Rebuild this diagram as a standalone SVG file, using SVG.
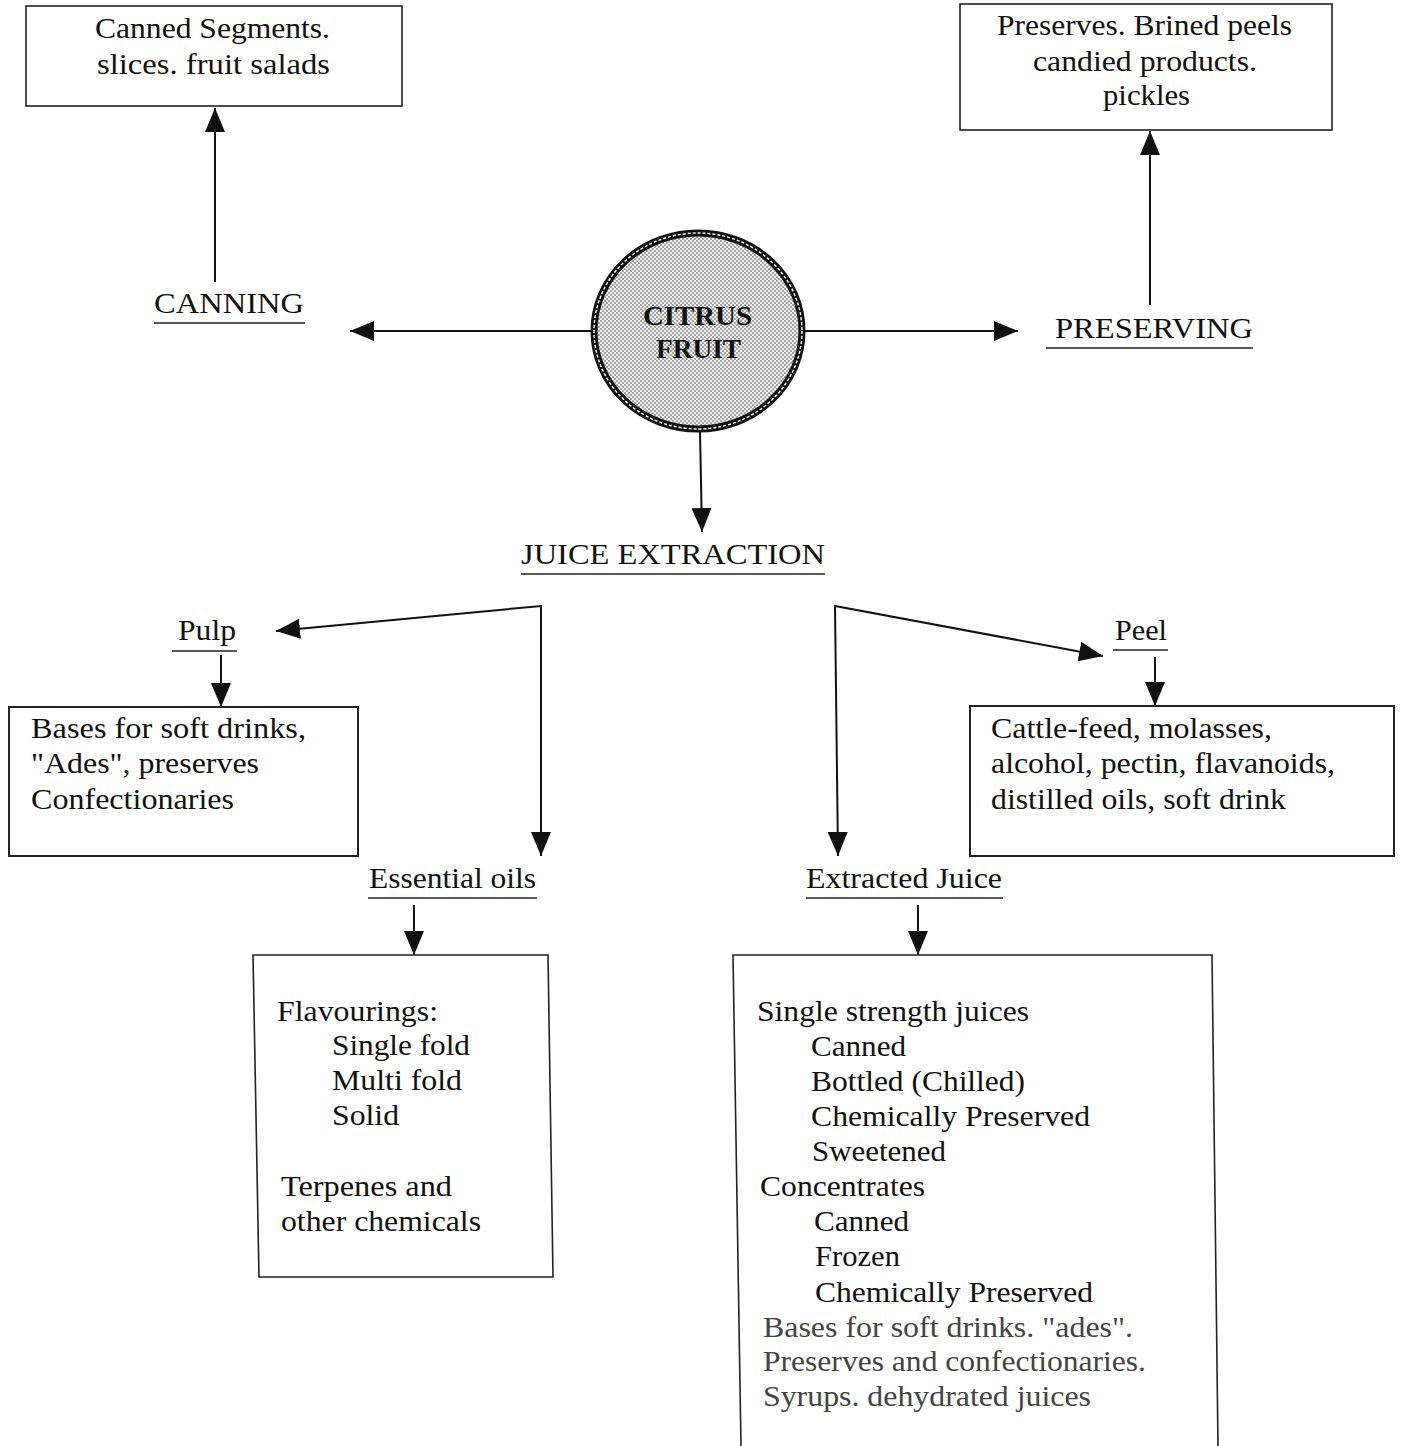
<svg xmlns="http://www.w3.org/2000/svg" width="1401" height="1446" viewBox="0 0 1401 1446">
<style>
.t{font-family:"Liberation Serif","Times New Roman",serif;font-size:30px;fill:#111}
.box{fill:none;stroke:#222;stroke-width:1.6}
.ln{fill:none;stroke:#111;stroke-width:2}
.ul{stroke:#222;stroke-width:1.5}
.f{fill:#444}
</style>
<defs>
<marker id="ah" viewBox="0 0 24 20" refX="24" refY="10" markerWidth="24" markerHeight="20" orient="auto-start-reverse" markerUnits="userSpaceOnUse">
<path d="M0,0 L24,10 L0,20 z" fill="#111"/>
</marker>
<pattern id="dots" width="4" height="4" patternUnits="userSpaceOnUse">
<rect width="4" height="4" fill="#f0f0f0"/>
<circle cx="1" cy="1" r="0.75" fill="#333"/>
<circle cx="3" cy="3" r="0.75" fill="#333"/>
</pattern>
</defs>
<rect width="1401" height="1446" fill="#fff"/>

<g id="connectors">
<line class="ln" x1="215" y1="282" x2="215" y2="108" marker-end="url(#ah)"/>
<line class="ln" x1="1150" y1="305" x2="1150" y2="131" marker-end="url(#ah)"/>
<line class="ln" x1="591" y1="331" x2="350" y2="331" marker-end="url(#ah)"/>
<line class="ln" x1="805" y1="331" x2="1018" y2="331" marker-end="url(#ah)"/>
<line class="ln" x1="700" y1="432" x2="702" y2="532" marker-end="url(#ah)"/>
<path class="ln" d="M541,856 L541,606 L276,631" marker-start="url(#ah)" marker-end="url(#ah)"/>
<path class="ln" d="M838,856 L835,606 L1103,656" marker-start="url(#ah)" marker-end="url(#ah)"/>
<line class="ln" x1="221" y1="655" x2="221" y2="707" marker-end="url(#ah)"/>
<line class="ln" x1="1155" y1="657" x2="1155" y2="706" marker-end="url(#ah)"/>
<line class="ln" x1="414" y1="905" x2="414" y2="955" marker-end="url(#ah)"/>
<line class="ln" x1="918" y1="905" x2="918" y2="955" marker-end="url(#ah)"/>
</g>

<g id="citrus">
<ellipse cx="698" cy="331" rx="104" ry="98" fill="url(#dots)" stroke="#111" stroke-width="7"/>
<ellipse cx="698" cy="331" rx="104" ry="98" fill="none" stroke="#fff" stroke-width="1.4" stroke-dasharray="3 2"/>
<text class="t" x="643" y="325" textLength="109" lengthAdjust="spacingAndGlyphs" style="font-weight:bold;font-size:28px">CITRUS</text>
<text class="t" x="656" y="358" textLength="85" lengthAdjust="spacingAndGlyphs" style="font-weight:bold;font-size:28px">FRUIT</text>
</g>

<g id="canned-box">
<rect class="box" x="26" y="6" width="376" height="100"/>
<text class="t" x="95" y="38" textLength="235" lengthAdjust="spacingAndGlyphs">Canned Segments.</text>
<text class="t" x="97" y="74" textLength="233" lengthAdjust="spacingAndGlyphs">slices. fruit salads</text>
</g>

<g id="preserves-box">
<rect class="box" x="960" y="4" width="372" height="126"/>
<text class="t" x="997" y="35" textLength="295" lengthAdjust="spacingAndGlyphs">Preserves. Brined peels</text>
<text class="t" x="1033" y="71" textLength="224" lengthAdjust="spacingAndGlyphs">candied products.</text>
<text class="t" x="1103" y="105" textLength="87" lengthAdjust="spacingAndGlyphs">pickles</text>
</g>

<g id="canning">
<text class="t" x="154" y="313" textLength="150" lengthAdjust="spacingAndGlyphs">CANNING</text>
<line class="ul" x1="154" y1="323" x2="305" y2="323"/>
</g>

<g id="preserving">
<text class="t" x="1055" y="338" textLength="198" lengthAdjust="spacingAndGlyphs">PRESERVING</text>
<line class="ul" x1="1046" y1="348" x2="1253" y2="348"/>
</g>

<g id="juice-extraction">
<text class="t" x="521" y="564" textLength="304" lengthAdjust="spacingAndGlyphs">JUICE EXTRACTION</text>
<line class="ul" x1="521" y1="574" x2="825" y2="574"/>
</g>

<g id="pulp">
<text class="t" x="178" y="640" textLength="58" lengthAdjust="spacingAndGlyphs">Pulp</text>
<line class="ul" x1="172" y1="651" x2="237" y2="651"/>
</g>

<g id="pulp-box">
<rect class="box" x="9" y="707" width="349" height="149" style="stroke-width:2"/>
<text class="t" x="31" y="738" textLength="275" lengthAdjust="spacingAndGlyphs">Bases for soft drinks,</text>
<text class="t" x="31" y="773" textLength="228" lengthAdjust="spacingAndGlyphs">"Ades", preserves</text>
<text class="t" x="31" y="809" textLength="203" lengthAdjust="spacingAndGlyphs">Confectionaries</text>
</g>

<g id="peel">
<text class="t" x="1115" y="640" textLength="52" lengthAdjust="spacingAndGlyphs">Peel</text>
<line class="ul" x1="1113" y1="650" x2="1168" y2="650"/>
</g>

<g id="peel-box">
<rect class="box" x="970" y="706" width="424" height="150" style="stroke-width:2"/>
<text class="t" x="991" y="738" textLength="281" lengthAdjust="spacingAndGlyphs">Cattle-feed, molasses,</text>
<text class="t" x="991" y="773" textLength="344" lengthAdjust="spacingAndGlyphs">alcohol, pectin, flavanoids,</text>
<text class="t" x="991" y="809" textLength="295" lengthAdjust="spacingAndGlyphs">distilled oils, soft drink</text>
</g>

<g id="essential-oils">
<text class="t" x="369" y="888" textLength="167" lengthAdjust="spacingAndGlyphs">Essential oils</text>
<line class="ul" x1="368" y1="898" x2="537" y2="898"/>
</g>

<g id="essential-box">
<polygon class="box" points="253,955 548,955 553,1277 259,1277"/>
<text class="t" x="277" y="1021" textLength="161" lengthAdjust="spacingAndGlyphs">Flavourings:</text>
<text class="t" x="332" y="1055" textLength="138" lengthAdjust="spacingAndGlyphs">Single fold</text>
<text class="t" x="332" y="1090" textLength="130" lengthAdjust="spacingAndGlyphs">Multi fold</text>
<text class="t" x="332" y="1125" textLength="67" lengthAdjust="spacingAndGlyphs">Solid</text>
<text class="t" x="281" y="1196" textLength="171" lengthAdjust="spacingAndGlyphs">Terpenes and</text>
<text class="t" x="281" y="1231" textLength="200" lengthAdjust="spacingAndGlyphs">other chemicals</text>
</g>

<g id="extracted-juice">
<text class="t" x="806" y="888" textLength="196" lengthAdjust="spacingAndGlyphs">Extracted Juice</text>
<line class="ul" x1="806" y1="898" x2="1003" y2="898"/>
</g>

<g id="juice-box">
<polyline class="box" points="741,1446 733,955 1212,955 1218,1446"/>
<text class="t" x="757" y="1021" textLength="272" lengthAdjust="spacingAndGlyphs">Single strength juices</text>
<text class="t" x="811" y="1056" textLength="95" lengthAdjust="spacingAndGlyphs">Canned</text>
<text class="t" x="811" y="1091" textLength="214" lengthAdjust="spacingAndGlyphs">Bottled (Chilled)</text>
<text class="t" x="811" y="1126" textLength="279" lengthAdjust="spacingAndGlyphs">Chemically Preserved</text>
<text class="t" x="812" y="1161" textLength="134" lengthAdjust="spacingAndGlyphs">Sweetened</text>
<text class="t" x="760" y="1196" textLength="165" lengthAdjust="spacingAndGlyphs">Concentrates</text>
<text class="t" x="814" y="1231" textLength="95" lengthAdjust="spacingAndGlyphs">Canned</text>
<text class="t" x="815" y="1266" textLength="85" lengthAdjust="spacingAndGlyphs">Frozen</text>
<text class="t" x="815" y="1302" textLength="278" lengthAdjust="spacingAndGlyphs">Chemically Preserved</text>
<text class="t f" x="763" y="1337" textLength="370" lengthAdjust="spacingAndGlyphs">Bases for soft drinks. "ades".</text>
<text class="t f" x="763" y="1371" textLength="383" lengthAdjust="spacingAndGlyphs">Preserves and confectionaries.</text>
<text class="t f" x="763" y="1406" textLength="328" lengthAdjust="spacingAndGlyphs">Syrups. dehydrated juices</text>
</g>
</svg>
